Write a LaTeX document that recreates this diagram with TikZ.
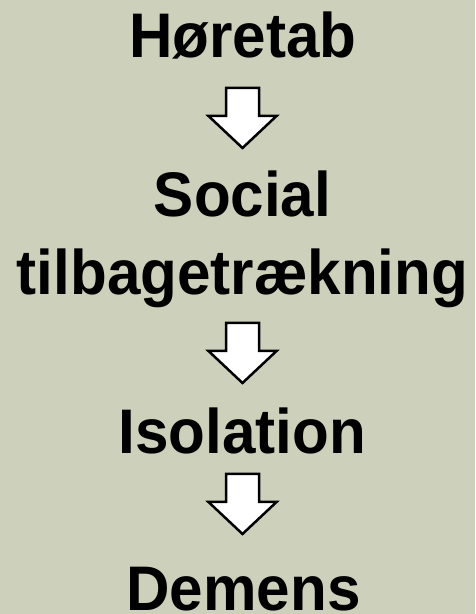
\documentclass[tikz,border=0pt]{standalone}
\usepackage{fontspec}
\setmainfont{Liberation Sans}[BoldFont={* Bold},BoldFeatures={FakeStretch=0.955}]
\definecolor{bg}{RGB}{205,209,187}
\tikzset{
  lbl/.style={anchor=base,inner sep=0pt,font=\fontsize{63}{70}\selectfont\bfseries,text=black},
  blockarrow/.style={draw=black,fill=white,line width=2.5pt,miter limit=10},
  darrow/.pic={\draw[blockarrow] (-16.5,0) -- (16.5,0) -- (16.5,-28) -- (34,-28) -- (0,-60) -- (-34,-28) -- (-16.5,-28) -- cycle;}
}
\begin{document}
\begin{tikzpicture}[x=1pt,y=1pt]
\fill[bg] (0,0) rectangle (475,614);
\useasboundingbox (0,0) rectangle (475,614);
\node[lbl] (hore) at (243,556) {Høretab};
\pic (a1) at (242.5,526) {darrow};
\node[lbl] (soc) at (242.5,397) {Social};
\node[lbl] (tilb) at (242.5,319) {tilbagetrækning};
\pic (a2) at (242.5,291) {darrow};
\node[lbl] (iso) at (242.5,160) {Isolation};
\pic (a3) at (242.5,140) {darrow};
\node[lbl,text depth=0pt] (dem) at (243.5,3) {Demens};
\end{tikzpicture}
\end{document}
